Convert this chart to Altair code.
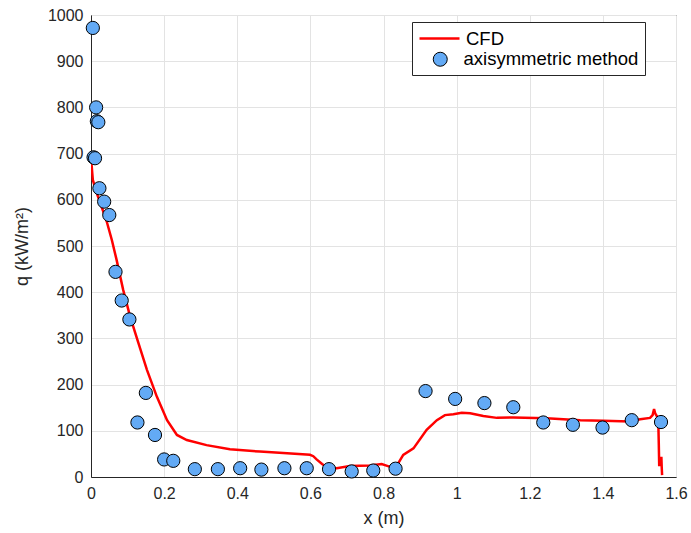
import altair as alt
import pandas as pd

# axisymmetric method points
pt_x = [0.005, 0.014, 0.016, 0.020, 0.007, 0.011, 0.023, 0.036, 0.050, 0.067, 0.084, 0.105,
        0.150, 0.127, 0.175, 0.200, 0.225, 0.284, 0.347, 0.408, 0.466, 0.529, 0.590, 0.651,
        0.713, 0.772, 0.833, 0.915, 0.996, 1.076, 1.155, 1.237, 1.318, 1.399, 1.479, 1.559]
pt_y = [972, 800, 770, 768, 692, 690, 625, 596, 567, 444, 382, 341,
        182, 118, 91, 38, 35, 17, 17, 19, 16, 19, 19, 17,
        12, 14, 18, 186, 169, 160, 151, 118, 113, 107, 123, 119]

# CFD line
cfd_x = [0.0, 0.002, 0.005, 0.016, 0.029, 0.043, 0.057, 0.070, 0.088, 0.107, 0.130, 0.153,
         0.180, 0.208, 0.235, 0.262, 0.316, 0.380, 0.462, 0.526, 0.599, 0.608, 0.617, 0.632,
         0.645, 0.672, 0.708, 0.763, 0.795, 0.818, 0.836, 0.854, 0.882, 0.918, 0.946, 0.968,
         0.991, 1.014, 1.037, 1.073, 1.110, 1.155, 1.246, 1.338, 1.401, 1.474, 1.502, 1.529,
         1.536, 1.540, 1.543, 1.548, 1.551, 1.552, 1.553, 1.554, 1.558, 1.560, 1.561, 1.562]
cfd_y = [690, 672, 643, 614, 585, 553, 513, 470, 405, 347, 289, 232,
         174, 123, 91, 80, 69, 60, 55, 52, 48, 45, 38, 28,
         21, 19, 24, 25, 28, 22, 24, 48, 62, 102, 123, 134,
         136, 139, 138, 132, 128, 129, 127, 123, 122, 120, 125, 128,
         134, 147, 138, 131, 127, 105, 69, 26, 26, 44, 20, 4]

x_ticks = [0, 0.2, 0.4, 0.6, 0.8, 1.0, 1.2, 1.4, 1.6]
y_ticks = [0, 100, 200, 300, 400, 500, 600, 700, 800, 900, 1000]
series = ["CFD", "axisymmetric method"]

line_df = pd.DataFrame({"x": cfd_x, "y": cfd_y, "series": series[0],
                        "i": list(range(len(cfd_x)))})
pt_df = pd.DataFrame({"x": pt_x, "y": pt_y, "series": series[1]})

FONT = "Liberation Sans"
TXT = "#262626"
BLUE = "#63aaf5"
RED = "#ff0000"

xs = alt.Scale(domain=[0, 1.6], nice=False, zero=False, padding=0)
ys = alt.Scale(domain=[0, 1000], nice=False, padding=0)

xaxis = alt.Axis(values=x_ticks, format="~g", title="x (m)", grid=True, ticks=False,
                 labelFlush=False, labelPadding=8, titlePadding=8)
yaxis = alt.Axis(values=y_ticks, format="d", title="q (kW/m²)", grid=True, ticks=False,
                 labelFlush=False, labelPadding=8, titlePadding=16)

legend_line = alt.Legend(
    title=None, orient="none", legendX=327, legendY=2, padding=0,
    symbolType="stroke", symbolSize=1600, symbolStrokeWidth=2.5,
    labelOffset=5, labelFontSize=18.5, labelFont=FONT, labelColor="black",
    labelLimit=300, zindex=3,
)
legend_pts = alt.Legend(
    title=" ", titleFontSize=18, titlePadding=4, titleFont=FONT,
    orient="none", legendX=321, legendY=7, padding=6,
    fillColor="white", strokeColor=TXT,
    symbolType="circle", symbolSize=196, symbolOffset=13,
    symbolStrokeColor="black", symbolStrokeWidth=1,
    labelOffset=14, labelFontSize=18.5, labelFont=FONT, labelColor="black",
    labelLimit=300, zindex=1,
)

line = alt.Chart(line_df).mark_line(strokeWidth=2.5, clip=True).encode(
    x=alt.X("x:Q", scale=xs, axis=xaxis),
    y=alt.Y("y:Q", scale=ys, axis=yaxis),
    stroke=alt.Stroke("series:N", scale=alt.Scale(domain=[series[0]], range=[RED]),
                      legend=legend_line),
    order="i:Q",
)

points = alt.Chart(pt_df).mark_point(filled=True, size=175, opacity=1,
                                     stroke="black", strokeWidth=1).encode(
    x=alt.X("x:Q", scale=xs),
    y=alt.Y("y:Q", scale=ys),
    fill=alt.Fill("series:N", scale=alt.Scale(domain=[series[1]], range=[BLUE]),
                  legend=legend_pts),
)

chart = alt.layer(line, points).resolve_legend(
    fill="independent", stroke="independent"
).properties(
    width=585, height=462,
    autosize=alt.AutoSizeParams(type="none"),
    padding={"left": 91, "top": 15, "right": 15, "bottom": 56},
    background="white",
).configure_view(
    stroke=TXT, strokeWidth=1,
).configure_axis(
    labelFont=FONT, titleFont=FONT, labelFontSize=16, titleFontSize=18,
    labelColor=TXT, titleColor=TXT, domainColor=TXT, titleFontWeight="normal",
    gridColor="#e3e3e3", gridWidth=1,
)

chart.save("out.html", embed_options={"renderer": "svg", "actions": False})
